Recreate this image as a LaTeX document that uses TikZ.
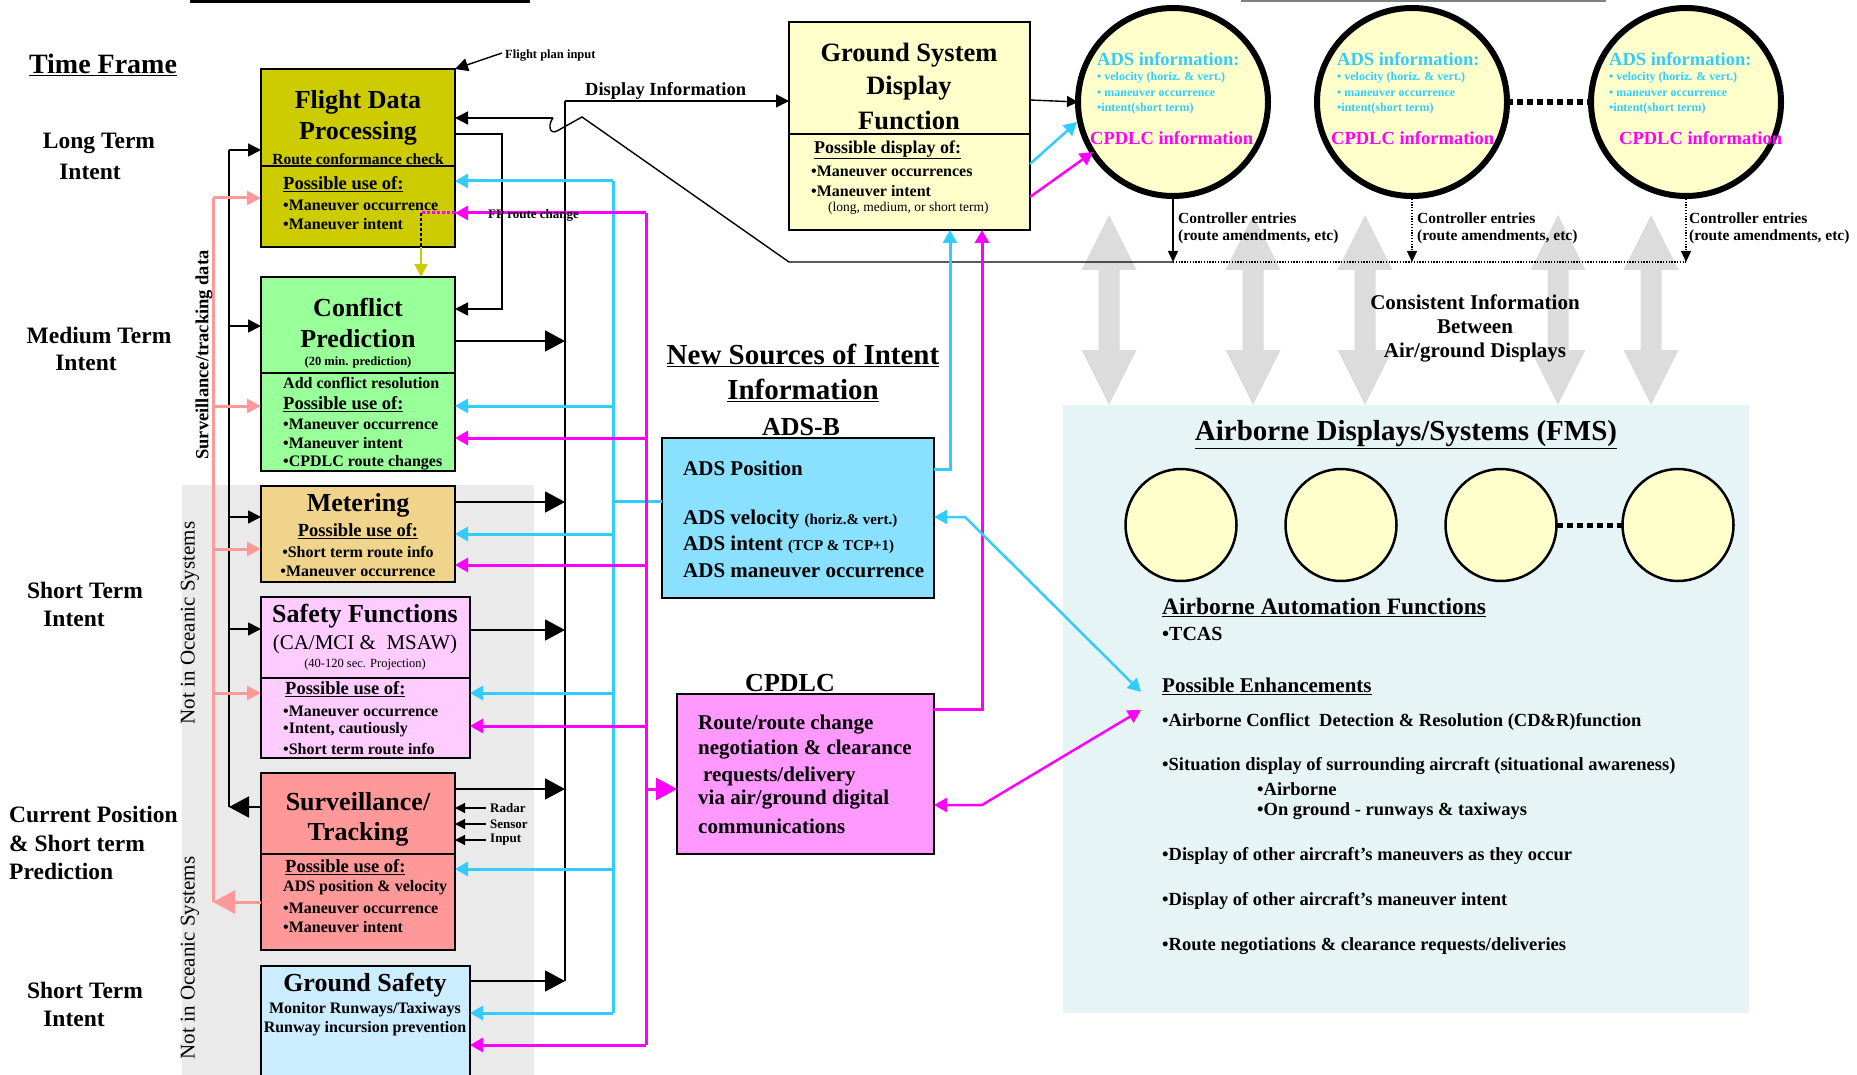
\documentclass[tikz,border=0pt]{standalone}
\usepackage{fontspec}
\setmainfont{Liberation Serif}
\usetikzlibrary{arrows.meta,shapes.geometric}
\definecolor{fdpC}{HTML}{CCCC00}
\definecolor{cpC}{HTML}{99FF99}
\definecolor{metC}{HTML}{F0D48C}
\definecolor{safC}{HTML}{FFCCFF}
\definecolor{survC}{HTML}{FF9999}
\definecolor{gsC}{HTML}{CCECFF}
\definecolor{gsdfC}{HTML}{FFFFCC}
\definecolor{adsC}{HTML}{8AE0FF}
\definecolor{cpdlcC}{HTML}{FF99FF}
\definecolor{cyanL}{HTML}{33CCFF}
\definecolor{magL}{HTML}{FF00FF}
\definecolor{pinkL}{HTML}{FF9999}
\definecolor{grayBG}{HTML}{EAEAEA}
\definecolor{arrG}{HTML}{DCDCDC}
\definecolor{airC}{HTML}{E6F4F6}
\newcommand\fsz[1]{\fontsize{#1pt}{#1pt}\selectfont}
\tikzset{
  box/.style={draw=black, line width=2.5pt, rectangle, inner sep=0pt, outer sep=0pt, anchor=north west},
  tw/.style={inner sep=0pt, anchor=west},
  tcn/.style={inner sep=0pt, anchor=center, align=center},
  bk/.style={draw=black, line width=1.8pt},
  bkA/.style={bk, -{Triangle[length=13pt,width=13pt]}},
  bkB/.style={bk, -{Triangle[length=20pt,width=21pt]}},
  cyl/.style={draw=cyanL, line width=3pt},
  cyA/.style={cyl, -{Triangle[length=13pt,width=14pt]}},
  mgl/.style={draw=magL, line width=3pt},
  mgA/.style={mgl, -{Triangle[length=13pt,width=14pt]}},
  pkl/.style={draw=pinkL, line width=3pt},
  pkA/.style={pkl, -{Triangle[length=14pt,width=14pt]}},
  fdot/.style={draw=black, line width=1.3pt, dash pattern=on 1.3pt off 1.5pt},
  gel/.style={ellipse, draw=black, line width=6pt, fill=gsdfC, minimum width=190pt, minimum height=188pt, inner sep=0pt, outer sep=0pt},
  ael/.style={ellipse, draw=black, line width=2.5pt, fill=gsdfC, minimum width=111pt, minimum height=112pt, inner sep=0pt, outer sep=0pt},
}
\begin{document}
\begin{tikzpicture}[x=1pt,y=-1pt]
\useasboundingbox (0,0) rectangle (1857,1075);
\clip (0,0) rectangle (1857,1075);
% backgrounds
\fill[grayBG] (182,485) rectangle (534,1075);
\fill[airC] (1063,405) rectangle (1749,1013);
\foreach \xx in {1109,1253,1365,1558,1651}{
  \fill[arrG] (\xx,215) -- ({\xx+27.5},270) -- ({\xx+10.5},270) -- ({\xx+10.5},350) -- ({\xx+27.5},350) -- (\xx,405) -- ({\xx-27.5},350) -- ({\xx-10.5},350) -- ({\xx-10.5},270) -- ({\xx-27.5},270) -- cycle;
}
% header fragments (cut off at the top)
\fill (190,0) rectangle (530,3.5);
\draw[gray,line width=1.5pt] (1241,1) -- (1606,1);

% ---------- boxes ----------
\node[box, fill=fdpC, minimum width=194pt, minimum height=178pt] (fdp) at (261,69) {};
\node[box, fill=cpC, minimum width=194pt, minimum height=194pt] (cp) at (261,277) {};
\node[box, fill=metC, minimum width=194pt, minimum height=96pt] (met) at (261,486) {};
\node[box, fill=safC, minimum width=209pt, minimum height=161pt] (saf) at (261,597) {};
\node[box, fill=survC, minimum width=194pt, minimum height=177pt] (surv) at (261,773) {};
\node[box, fill=gsC, minimum width=209pt, minimum height=130pt] (gs) at (261,966) {};
\node[box, fill=gsdfC, minimum width=241pt, minimum height=208pt] (gsdf) at (789,22) {};
\node[box, fill=adsC, minimum width=272pt, minimum height=160pt] (ads) at (662,438) {};
\node[box, fill=cpdlcC, minimum width=257pt, minimum height=160pt] (cpdlc) at (677,694) {};
\draw[line width=2.5pt] (fdp.west |- 0,166) -- (fdp.east |- 0,166);
\draw[line width=2.5pt] (cp.west |- 0,373) -- (cp.east |- 0,373);
\draw[line width=2.5pt] (saf.west |- 0,678) -- (saf.east |- 0,678);
\draw[line width=2.5pt] (surv.west |- 0,854) -- (surv.east |- 0,854);
\draw[line width=2.5pt] (gsdf.west |- 0,134) -- (gsdf.east |- 0,134);

% ellipses
\node[gel] (g1) at (1173,102) {};
\node[gel] (g2) at (1412,102) {};
\node[gel] (g3) at (1686,102) {};
\draw[line width=6pt, dash pattern=on 6pt off 4pt] (g2.east) -- (g3.west);
\node[ael] (a1) at (1181,525) {};
\node[ael] (a2) at (1341,525) {};
\node[ael] (a3) at (1501,525) {};
\node[ael] (a4) at (1678,525) {};
\draw[line width=5pt, dash pattern=on 6pt off 4pt] (a3.east) -- (a4.west);

% ---------- left buses ----------
\draw[bk] (229,150) -- (229,807);
\draw[bkA] (229,150) -- (fdp.west |- 0,150);
\draw[bkA] (229,326) -- (cp.west |- 0,326);
\draw[bkA] (229,517) -- (met.west |- 0,517);
\draw[bkA] (229,629) -- (saf.west |- 0,629);
\draw[bkB] (surv.west |- 0,807) -- (229,807);
\draw[pkl] (213,198) -- (213,902);
\draw[pkA] (213,198) -- (fdp.west |- 0,198);
\draw[pkA] (213,406) -- (cp.west |- 0,406);
\draw[pkA] (213,549) -- (met.west |- 0,549);
\draw[pkA] (213,693) -- (saf.west |- 0,693);
\draw[pkl, -{Triangle[length=22pt,width=23pt]}] (surv.west |- 0,902) -- (213,902);

% ---------- right black bus ----------
\draw[bk] (565,981) -- (565,101);
\draw[bkA] (565,101) -- (gsdf.west |- 0,101);
\draw[bkB] (cp.east |- 0,341) -- (565,341);
\draw[bkB] (met.east |- 0,502) -- (565,502);
\draw[bkB] (saf.east |- 0,630) -- (565,630);
\draw[bkB] (surv.east |- 0,789) -- (565,789);
\draw[bkB] (gs.east |- 0,981) -- (565,981);
\draw[bkA] (fdp.east |- 0,134) -- (502,134) -- (502,309) -- (cp.east |- 0,309);
\draw[bkA, line width=1.4pt] (502,53) -- (fdp.north east);
\foreach \yy in {808,824,840}{\draw[bkA, line width=1.4pt, -{Triangle[length=10pt,width=10pt]}] (486,\yy) -- (surv.east |- 0,\yy);}

% ---------- controller feedback ----------
\draw[bk, line width=1.4pt, -{Triangle[length=11pt,width=10pt]}] (g1.south) -- (1173,262);
\draw[fdot, -{Triangle[length=11pt,width=10pt]}] (g2.south) -- (1412,262);
\draw[fdot, -{Triangle[length=11pt,width=10pt]}] (g3.south) -- (1686,262);
\draw[fdot] (1173,262) -- (1686,262);
\draw[bk, line width=1.4pt] (1173,262) -- (789,262) -- (582,117) -- (557,131) .. controls (549,135) and (548,124) .. (553,118);
\draw[bkA, line width=1.4pt] (553,118) -- (fdp.east |- 0,118);
\draw[bkA, line width=1.4pt, -{Triangle[length=11pt,width=11pt]}] (gsdf.east |- 0,100) -- (g1.west);
\draw[cyA, line width=2.5pt] (gsdf.east |- 0,164) -- (1077,122);
\draw[mgA, line width=2.5pt] (gsdf.east |- 0,197) -- (1093,152);

% ---------- cyan / magenta buses ----------
\draw[cyl] (613,181) -- (613,1013);
\draw[cyA] (613,181) -- (fdp.east |- 0,181);
\draw[cyA] (613,406) -- (cp.east |- 0,406);
\draw[cyA] (613,534) -- (met.east |- 0,534);
\draw[cyA] (613,693) -- (saf.east |- 0,693);
\draw[cyA] (613,869) -- (surv.east |- 0,869);
\draw[cyA] (613,1013) -- (gs.east |- 0,1013);
\draw[cyl] (ads.west |- 0,501) -- (613,501);
\draw[mgl] (646,213) -- (646,1045);
\draw[mgA] (646,213) -- (fdp.east |- 0,213);
\draw[mgA] (646,438) -- (cp.east |- 0,438);
\draw[mgA] (646,565) -- (met.east |- 0,565);
\draw[mgA] (646,726) -- (saf.east |- 0,726);
\draw[mgA] (646,1045) -- (gs.east |- 0,1045);
\draw[mgl, -{Triangle[length=21pt,width=22pt]}] (646,789) -- (cpdlc.west |- 0,789);
\draw[magL, line width=3pt, dash pattern=on 3pt off 2pt] (fdp.east |- 0,213) -- (421,213);
\draw[black, line width=2.5pt, dash pattern=on 3pt off 2pt] (421,213) -- (fdp.south -| 421,0);
\draw[fdpC, line width=2pt, -{Triangle[length=13pt,width=13pt]}] (fdp.south -| 421,0) -- (cp.north -| 421,0);
\draw[cyA] (ads.east |- 0,469) -- (950,469) -- (gsdf.south -| 950,0);
\draw[mgA] (cpdlc.east |- 0,709) -- (982,709) -- (gsdf.south -| 982,0);
\draw[cyl, line width=2.5pt, {Triangle[length=13pt,width=14pt]}-{Triangle[length=13pt,width=14pt]}] (ads.east |- 0,517) -- (965,517) -- (1141,692);
\draw[mgl, line width=2.5pt, {Triangle[length=13pt,width=14pt]}-{Triangle[length=13pt,width=14pt]}] (cpdlc.east |- 0,805) -- (982,805) -- (1141,710);

% ---------- texts: left column ----------
\node[tcn, font=\bfseries\fsz{28}] (tf) at (103,65) {\underline{Time Frame}};
\node[tcn, font=\bfseries\fsz{23.5}] (lt1) at (99,143) {Long Term};
\node[tcn, font=\bfseries\fsz{23.5}] (lt2) at (90,172) {Intent};
\node[tcn, font=\bfseries\fsz{23.5}] (mt1) at (99,335) {Medium Term};
\node[tcn, font=\bfseries\fsz{23.5}] (mt2) at (86,363) {Intent};
\node[tcn, font=\bfseries\fsz{23.5}] (st1) at (85,590) {Short Term};
\node[tcn, font=\bfseries\fsz{23.5}] (st2) at (74,619) {Intent};
\node[tw, font=\bfseries\fsz{23.5}] (cp1) at (9,814) {Current Position};
\node[tw, font=\bfseries\fsz{23.5}] (cp2) at (9,843) {\& Short term};
\node[tw, font=\bfseries\fsz{23.5}] (cp3) at (9,871) {Prediction};
\node[tcn, font=\bfseries\fsz{23.5}] (st3) at (85,990) {Short Term};
\node[tcn, font=\bfseries\fsz{23.5}] (st4) at (74,1019) {Intent};
\node[tcn, font=\bfseries\fsz{18.5}, rotate=90] (svd) at (204,355) {Surveillance/tracking data};
\node[tcn, font=\fsz{21}, rotate=90] (noc1) at (190,623) {Not in Oceanic Systems};
\node[tcn, font=\fsz{21}, rotate=90] (noc2) at (190,958) {Not in Oceanic Systems};

% FDP
\node[tcn, font=\bfseries\fsz{26}] (fdpt1) at (358,102) {Flight Data};
\node[tcn, font=\bfseries\fsz{26}] (fdpt2) at (358,133) {Processing};
\node[tcn, font=\bfseries\fsz{15.5}] (fdpt3) at (358,159) {Route conformance check};
\node[tw, font=\bfseries\fsz{18.5}] (fdpp) at (283,184) {\underline{Possible use of:}};
\node[tw, font=\bfseries\fsz{16}] at (283,205) {•Maneuver occurrence};
\node[tw, font=\bfseries\fsz{16}] at (283,224) {•Maneuver intent};
\node[tw, font=\bfseries\fsz{12.5}] (fpi) at (505,56) {Flight plan input};
\node[tw, font=\bfseries\fsz{13}] (fprc) at (488,215) {FP route change};
% CP
\node[tcn, font=\bfseries\fsz{26}] at (358,307) {Conflict};
\node[tcn, font=\bfseries\fsz{26}] at (358,339) {Prediction};
\node[tcn, font=\bfseries\fsz{12.5}] at (358,362) {(20 min. prediction)};
\node[tw, font=\bfseries\fsz{16}] at (283,383) {Add conflict resolution};
\node[tw, font=\bfseries\fsz{18.5}] at (283,404) {\underline{Possible use of:}};
\node[tw, font=\bfseries\fsz{16}] at (283,424) {•Maneuver occurrence};
\node[tw, font=\bfseries\fsz{16}] at (283,443) {•Maneuver intent};
\node[tw, font=\bfseries\fsz{16}] at (283,463) {•CPDLC route changes};
% Metering
\node[tcn, font=\bfseries\fsz{26}] at (358,505) {Metering};
\node[tcn, font=\bfseries\fsz{18.5}] at (358,531) {\underline{Possible use of:}};
\node[tcn, font=\bfseries\fsz{16}] at (358,552) {•Short term route info};
\node[tcn, font=\bfseries\fsz{16}] at (358,571) {•Maneuver occurrence};
% Safety
\node[tcn, font=\bfseries\fsz{26}] at (365,616) {Safety Functions};
\node[tcn, font=\fsz{21}] at (365,644) {(CA/MCI \&\ \ MSAW)};
\node[tcn, font=\fsz{12.5}] at (365,664) {(40-120 sec. Projection)};
\node[tw, font=\bfseries\fsz{18.5}] at (285,689) {\underline{Possible use of:}};
\node[tw, font=\bfseries\fsz{16}] at (283,711) {•Maneuver occurrence};
\node[tw, font=\bfseries\fsz{16}] at (283,730) {•Intent, cautiously};
\node[tw, font=\bfseries\fsz{16}] at (283,749) {•Short term route info};
% Surveillance
\node[tcn, font=\bfseries\fsz{26}] at (358,802) {Surveillance/};
\node[tcn, font=\bfseries\fsz{26}] at (358,834) {Tracking};
\node[tw, font=\bfseries\fsz{18.5}] at (285,867) {\underline{Possible use of:}};
\node[tw, font=\bfseries\fsz{16}] at (283,888) {ADS position \& velocity};
\node[tw, font=\bfseries\fsz{16}] at (283,908) {•Maneuver occurrence};
\node[tw, font=\bfseries\fsz{16}] at (283,927) {•Maneuver intent};
\node[tw, font=\bfseries\fsz{13}] (rad) at (490,808) {Radar};
\node[tw, font=\bfseries\fsz{13}] (sen) at (490,824) {Sensor};
\node[tw, font=\bfseries\fsz{13}] (inp) at (490,840) {Input};
% Ground safety
\node[tcn, font=\bfseries\fsz{26}] at (365,985) {Ground Safety};
\node[tcn, font=\bfseries\fsz{16}] at (365,1010) {Monitor Runways/Taxiways};
\node[tcn, font=\bfseries\fsz{16}] at (365,1029) {Runway incursion prevention};

% GSDF
\node[tcn, font=\bfseries\fsz{26.5}] at (909,55) {Ground System};
\node[tcn, font=\bfseries\fsz{26.5}] at (909,88) {Display};
\node[tcn, font=\bfseries\fsz{26.5}] at (909,120) {Function};
\node[tw, font=\bfseries\fsz{18}] at (814,150) {\underline{Possible display of:}};
\node[tw, font=\bfseries\fsz{16}] at (811,171) {•Maneuver occurrences};
\node[tw, font=\bfseries\fsz{16}] at (811,191) {•Maneuver intent};
\node[tw, font=\fsz{13.5}] at (828,208) {(long, medium, or short term)};
\node[tw, font=\bfseries\fsz{18.5}] (dinf) at (585,91) {Display Information};

% New sources
\node[tcn, font=\bfseries\fsz{29}] (nsi1) at (803,355) {\underline{New Sources of Intent}};
\node[tcn, font=\bfseries\fsz{29}] (nsi2) at (803,390) {\underline{Information}};
\node[tcn, font=\bfseries\fsz{26}] (adsb) at (801,427) {ADS-B};
\node[tw, font=\bfseries\fsz{21}] at (683,468) {ADS Position};
\node[tw, font=\bfseries\fsz{21}] at (683,519) {ADS velocity {\fsz{15}(horiz.\& vert.)}};
\node[tw, font=\bfseries\fsz{21}] at (683,545) {ADS intent {\fsz{15}(TCP \& TCP+1)}};
\node[tw, font=\bfseries\fsz{21}] at (683,571) {ADS maneuver occurrence};
\node[tcn, font=\bfseries\fsz{26}] (cpdlcl) at (790,683) {CPDLC};
\node[tw, font=\bfseries\fsz{21}] at (698,725) {Route/route change};
\node[tw, font=\bfseries\fsz{21}] at (698,750) {negotiation \& clearance};
\node[tw, font=\bfseries\fsz{21}] at (703,776) {requests/delivery};
\node[tw, font=\bfseries\fsz{21}] at (698,800) {via air/ground digital};
\node[tw, font=\bfseries\fsz{21}] at (698,826) {communications};

% ground display ellipse texts
\foreach \ax/\cx/\nm in {1097/1090/e1, 1337/1331/e2, 1609/1619/e3}{
  \node[tw, font=\bfseries\fsz{18.5}, text=cyanL] (\nm a) at (\ax,59) {ADS information:};
  \node[tw, font=\bfseries\fsz{12}, text=cyanL] at (\ax,78) {• velocity (horiz. \& vert.)};
  \node[tw, font=\bfseries\fsz{12}, text=cyanL] at (\ax,94) {• maneuver occurrence};
  \node[tw, font=\bfseries\fsz{12}, text=cyanL] at (\ax,109) {•intent(short term)};
  \node[tw, font=\bfseries\fsz{18.5}, text=magL] (\nm c) at (\cx,138) {CPDLC information};
}
\foreach \cx in {1178,1417,1689}{
  \node[tw, font=\bfseries\fsz{15.5}] at (\cx,218) {Controller entries};
  \node[tw, font=\bfseries\fsz{15.5}] at (\cx,237) {(route amendments, etc)};
}
\node[tcn, font=\bfseries\fsz{21}] (ci1) at (1475,302) {Consistent Information};
\node[tcn, font=\bfseries\fsz{21}] (ci2) at (1475,327) {Between};
\node[tcn, font=\bfseries\fsz{21}] (ci3) at (1475,353) {Air/ground Displays};

% airborne
\node[tcn, font=\bfseries\fsz{29}] (adt) at (1406,435) {\underline{Airborne Displays/Systems (FMS)}};
\node[tw, font=\bfseries\fsz{23.5}] at (1162,607) {\underline{Airborne Automation Functions}};
\node[tw, font=\bfseries\fsz{20}] at (1162,634) {•TCAS};
\node[tw, font=\bfseries\fsz{21}] at (1162,686) {\underline{Possible Enhancements}};
\node[tw, font=\bfseries\fsz{18.5}] at (1162,722) {•Airborne Conflict\ \ Detection \& Resolution (CD\&R)function};
\node[tw, font=\bfseries\fsz{18.5}] at (1162,766) {•Situation display of surrounding aircraft (situational awareness)};
\node[tw, font=\bfseries\fsz{18.5}] at (1257,789) {•Airborne};
\node[tw, font=\bfseries\fsz{18.5}] at (1257,811) {•On ground - runways \& taxiways};
\node[tw, font=\bfseries\fsz{18.5}] at (1162,856) {•Display of other aircraft’s maneuvers as they occur};
\node[tw, font=\bfseries\fsz{18.5}] at (1162,901) {•Display of other aircraft’s maneuver intent};
\node[tw, font=\bfseries\fsz{18.5}] at (1162,946) {•Route negotiations \& clearance requests/deliveries};
\end{tikzpicture}
\end{document}
